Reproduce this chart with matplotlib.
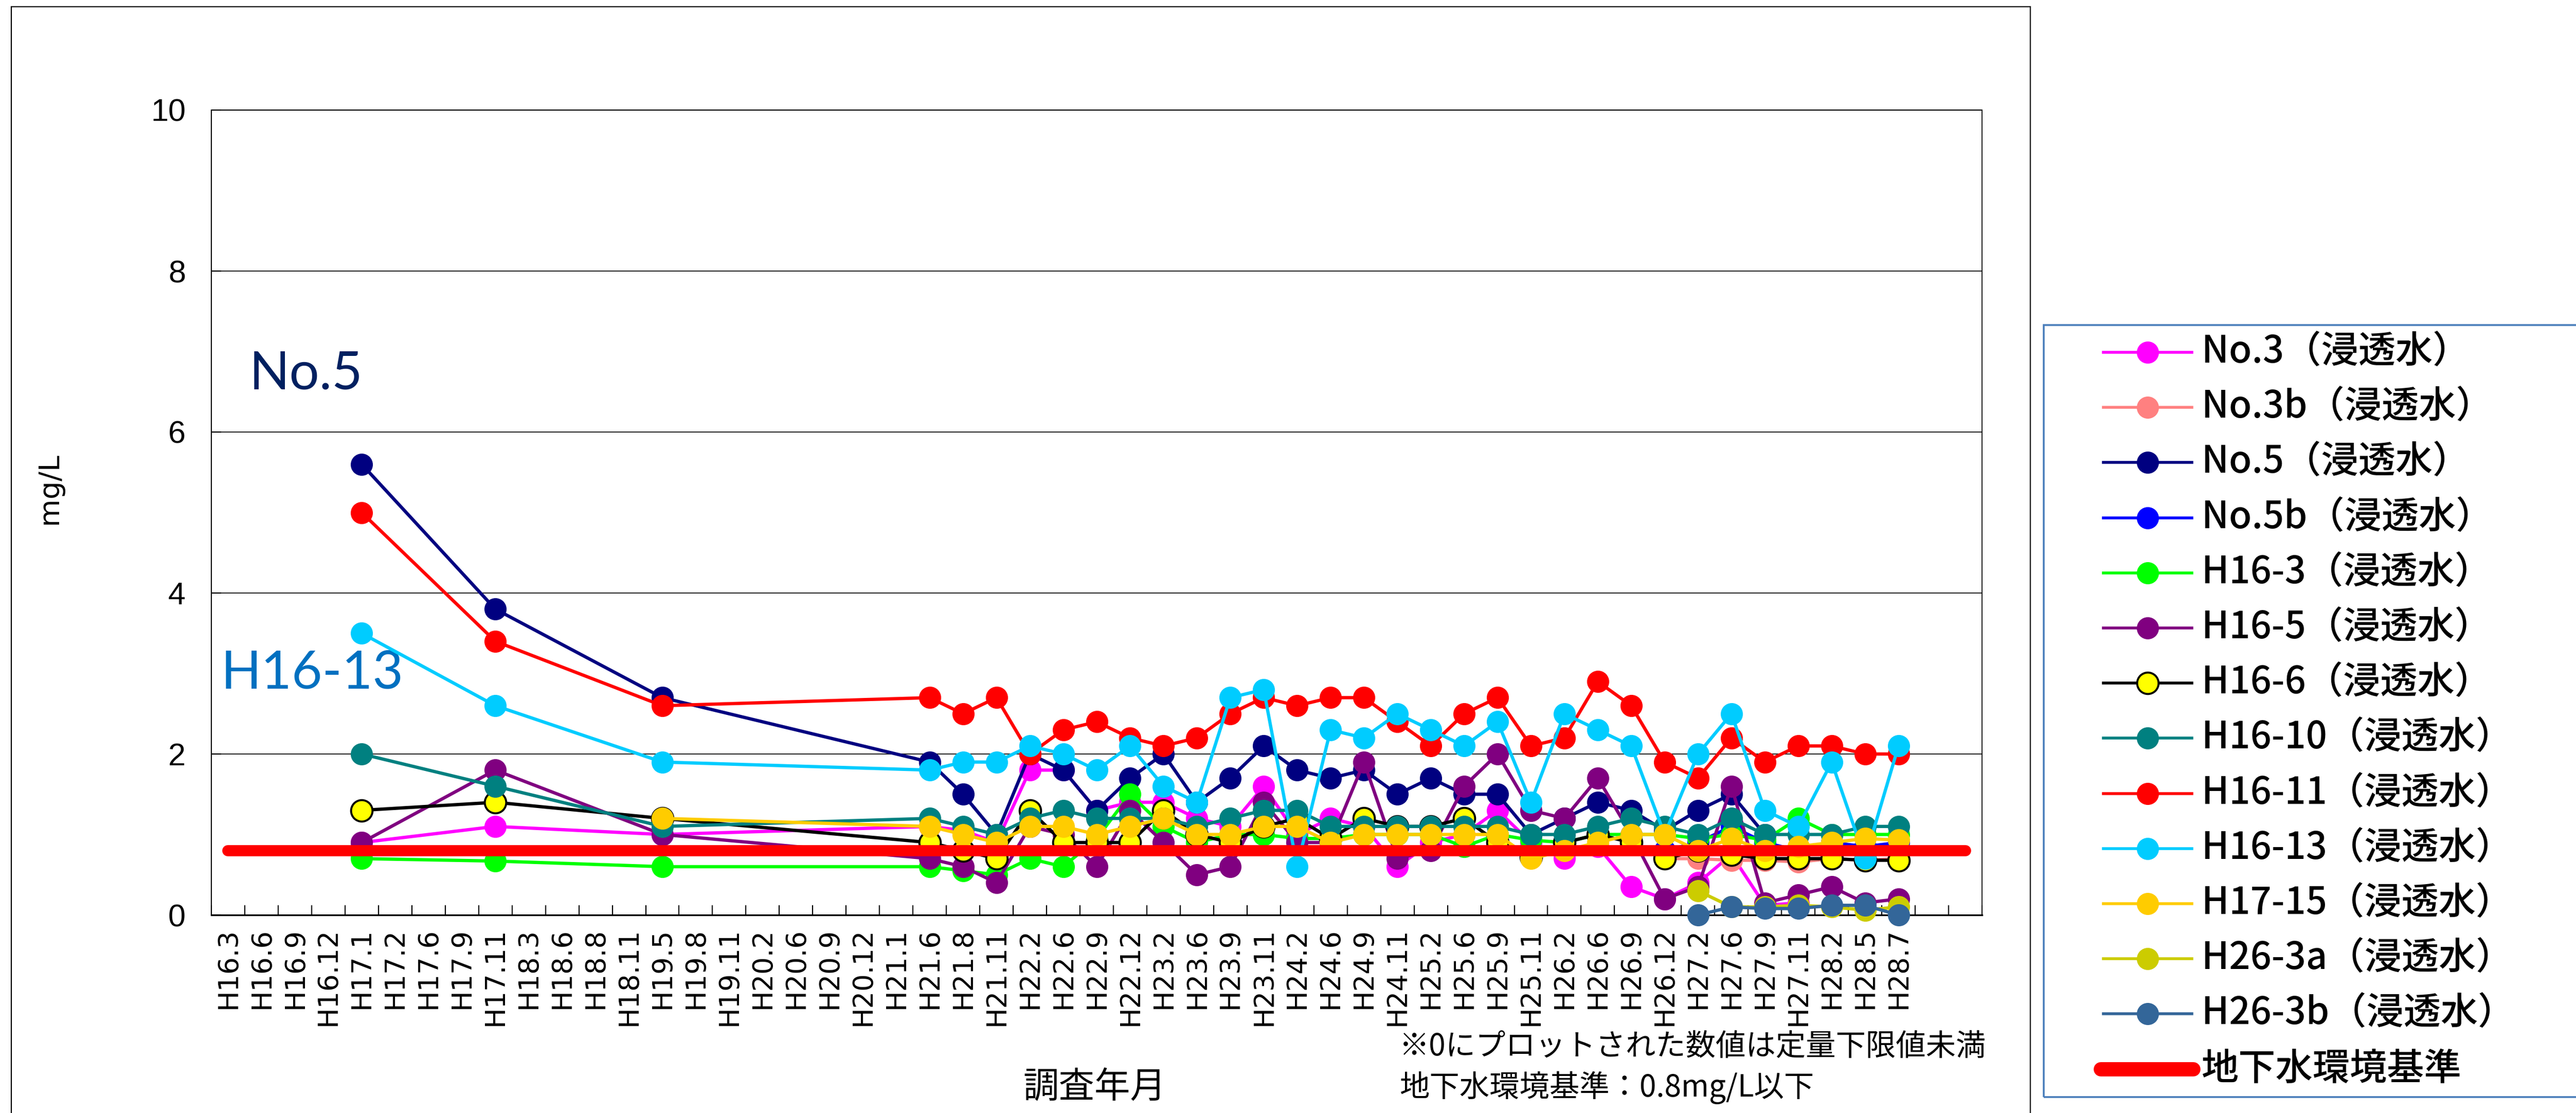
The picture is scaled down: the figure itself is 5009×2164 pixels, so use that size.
import matplotlib
matplotlib.use('Agg')
import matplotlib.pyplot as plt
from matplotlib.lines import Line2D
from matplotlib.patches import Rectangle

N = None

categories = ['H16.3', 'H16.6', 'H16.9', 'H16.12', 'H17.1', 'H17.2', 'H17.6', 'H17.9', 'H17.11',
              'H18.3', 'H18.6', 'H18.8', 'H18.11', 'H19.5', 'H19.8', 'H19.11', 'H20.2', 'H20.6',
              'H20.9', 'H20.12', 'H21.1', 'H21.6', 'H21.8', 'H21.11', 'H22.2', 'H22.6', 'H22.9',
              'H22.12', 'H23.2', 'H23.6', 'H23.9', 'H23.11', 'H24.2', 'H24.6', 'H24.9', 'H24.11',
              'H25.2', 'H25.6', 'H25.9', 'H25.11', 'H26.2', 'H26.6', 'H26.9', 'H26.12', 'H27.2',
              'H27.6', 'H27.9', 'H27.11', 'H28.2', 'H28.5', 'H28.7', '', '']

# values per category (None = not measured)
no3 = [N, N, N, N, 0.9, N, N, N, 1.1, N, N, N, N, 1.0, N, N, N, N, N, N, N,
       1.1, 1.05, 0.9, 1.8, 1.8, 1.3, 1.4, 1.4, 1.2, 1.1, 1.6, 1.0, 1.2, 1.1, 0.6,
       0.9, 1.0, 1.3, 0.9, 0.7, 0.85, 0.35, 0.2, 0.4, 0.75, 0.12, 0.15, N, N, N, N, N]
no3b = [N] * 43 + [0.7, 0.7, 0.68, 0.68, 0.66, 0.7, 0.68, 0.7, N, N]
no5 = [N, N, N, N, 5.6, N, N, N, 3.8, N, N, N, N, 2.7, N, N, N, N, N, N, N,
       1.9, 1.5, 1.0, 2.0, 1.8, 1.3, 1.7, 2.0, 1.4, 1.7, 2.1, 1.8, 1.7, 1.8, 1.5,
       1.7, 1.5, 1.5, 1.0, 1.2, 1.4, 1.3, 1.05, 1.3, 1.5, 1.0, N, N, N, N, N, N]
no5b = [N] * 43 + [0.8, 0.9, 1.1, 0.9, 0.8, 0.9, 0.85, 0.9, N, N]
h16_3 = [N, N, N, N, 0.7, N, N, N, 0.67, N, N, N, N, 0.6, N, N, N, N, N, N, N,
         0.6, 0.55, 0.5, 0.7, 0.6, 0.95, 1.5, 1.1, 0.9, 1.0, 1.0, 0.95, 0.95, 1.0, 1.0,
         1.0, 0.85, 1.0, 0.93, 0.9, 1.0, 1.0, 1.0, 0.95, 1.0, 0.93, 1.2, 1.0, 1.0, 1.0, N, N]
h16_5 = [N, N, N, N, 0.9, N, N, N, 1.8, N, N, N, N, 1.0, N, N, N, N, N, N, N,
         0.7, 0.6, 0.4, 1.1, 1.0, 0.6, 1.3, 0.9, 0.5, 0.6, 1.4, 0.9, 0.9, 1.9, 0.7,
         0.8, 1.6, 2.0, 1.3, 1.2, 1.7, 1.0, 0.2, 0.35, 1.6, 0.15, 0.25, 0.35, 0.15, 0.2, N, N]
h16_6 = [N, N, N, N, 1.3, N, N, N, 1.4, N, N, N, N, 1.2, N, N, N, N, N, N, N,
         0.9, 0.8, 0.7, 1.3, 0.9, 0.9, 0.9, 1.3, 1.0, 0.9, 1.1, 1.2, 0.95, 1.2, 1.1,
         1.1, 1.2, 0.9, 0.72, 0.9, 1.0, 0.9, 0.7, 0.8, 0.75, 0.7, 0.7, 0.7, 0.68, 0.68, N, N]
h16_10 = [N, N, N, N, 2.0, N, N, N, 1.6, N, N, N, N, 1.1, N, N, N, N, N, N, N,
          1.2, 1.1, 1.0, 1.2, 1.3, 1.2, 1.2, 1.2, 1.1, 1.2, 1.3, 1.3, 1.1, 1.1, 1.1,
          1.1, 1.1, 1.1, 1.0, 1.0, 1.1, 1.2, 1.1, 1.0, 1.2, 1.0, 1.0, 1.0, 1.1, 1.1, N, N]
h16_11 = [N, N, N, N, 5.0, N, N, N, 3.4, N, N, N, N, 2.6, N, N, N, N, N, N, N,
          2.7, 2.5, 2.7, 2.0, 2.3, 2.4, 2.2, 2.1, 2.2, 2.5, 2.7, 2.6, 2.7, 2.7, 2.4,
          2.1, 2.5, 2.7, 2.1, 2.2, 2.9, 2.6, 1.9, 1.7, 2.2, 1.9, 2.1, 2.1, 2.0, 2.0, N, N]
h16_13 = [N, N, N, N, 3.5, N, N, N, 2.6, N, N, N, N, 1.9, N, N, N, N, N, N, N,
          1.8, 1.9, 1.9, 2.1, 2.0, 1.8, 2.1, 1.6, 1.4, 2.7, 2.8, 0.6, 2.3, 2.2, 2.5,
          2.3, 2.1, 2.4, 1.4, 2.5, 2.3, 2.1, 1.0, 2.0, 2.5, 1.3, 1.1, 1.9, 0.7, 2.1, N, N]
h17_15 = [N, N, N, N, N, N, N, N, N, N, N, N, N, 1.2, N, N, N, N, N, N, N,
          1.1, 1.0, 0.9, 1.1, 1.1, 1.0, 1.1, 1.2, 1.0, 1.0, 1.1, 1.1, 0.9, 1.0, 1.0,
          1.0, 1.0, 1.0, 0.7, 0.8, 0.9, 1.0, 1.0, 0.8, 0.95, 0.8, 0.85, 0.9, 0.95, 0.93, N, N]
h26_3a = [N] * 44 + [0.3, 0.1, 0.1, 0.12, 0.1, 0.06, 0.1, N, N]
h26_3b = [N] * 44 + [0.0, 0.1, 0.08, 0.08, 0.12, 0.12, 0.0, N, N]
standard = [0.8] * 53

series_labels = ['No.3（浸透水）', 'No.3b（浸透水）', 'No.5（浸透水）', 'No.5b（浸透水）',
                 'H16-3（浸透水）', 'H16-5（浸透水）', 'H16-6（浸透水）', 'H16-10（浸透水）',
                 'H16-11（浸透水）', 'H16-13（浸透水）', 'H17-15（浸透水）', 'H26-3a（浸透水）',
                 'H26-3b（浸透水）']
series_values = [no3, no3b, no5, no5b, h16_3, h16_5, h16_6, h16_10, h16_11, h16_13,
                 h17_15, h26_3a, h26_3b]
line_colors = ['#FF00FF', '#FF8080', '#000080', '#0000FF', '#00FF00', '#800080', '#000000',
               '#008080', '#FF0000', '#00CCFF', '#FFCC00', '#CCCC00', '#336699']
face_colors = ['#FF00FF', '#FF8080', '#000080', '#0000FF', '#00FF00', '#800080', '#FFFF00',
               '#008080', '#FF0000', '#00CCFF', '#FFCC00', '#CCCC00', '#336699']
standard_label = '地下水環境基準'

JP = ['Noto Sans CJK JP', 'DejaVu Sans']

W, H = 5009, 2164
DPI = 200
fig = plt.figure(figsize=(W / DPI, H / DPI), dpi=DPI)


def fx(px):
    return px / W


def fy(py):
    return 1 - py / H


L, R, T, B = 411, 3854, 214, 1779
ax = fig.add_axes([fx(L), fy(B), fx(R) - fx(L), fy(T) - fy(B)])

for k, (vals, lc, fc) in enumerate(zip(series_values, line_colors, face_colors)):
    xs = [i for i, v in enumerate(vals) if v is not None]
    ys = [v for v in vals if v is not None]
    edge = '#000000' if lc == '#000000' else fc
    ax.plot(xs, ys, color=lc, lw=2.3, marker='o', ms=15, mfc=fc, mec=edge,
            mew=1.4 if lc == '#000000' else 0.5, zorder=3 + k * 0.1, clip_on=False)

ax.plot(range(len(categories)), standard, color='#FF0000', lw=7.8,
        solid_capstyle='round', zorder=10)

ax.set_xlim(-0.5, len(categories) - 0.5)
ax.set_ylim(0, 10)
ax.set_yticks([0, 2, 4, 6, 8, 10])
ax.set_yticklabels(['0', '2', '4', '6', '8', '10'])
ax.yaxis.grid(True, color='black', lw=0.6)
ax.set_axisbelow(True)

ax.set_xticks(range(len(categories)))
ax.set_xticklabels(categories, rotation=90, fontsize=19, family='DejaVu Sans')
ax.set_xticks([i - 0.5 for i in range(len(categories) + 1)], minor=True)
ax.tick_params(axis='x', which='major', length=0, pad=9)
ax.tick_params(axis='x', which='minor', length=6.8, width=0.8, direction='in')
ax.tick_params(axis='y', which='major', length=6.8, width=0.8, direction='in', pad=18)
for lab in ax.get_yticklabels():
    lab.set_fontsize(22)
    lab.set_family(['Liberation Sans Narrow', 'Liberation Sans', 'DejaVu Sans'])

for s in ['left', 'right', 'top']:
    ax.spines[s].set_linewidth(0.7)
ax.spines['bottom'].set_linewidth(1.2)

ax.text(0.64, 6.72, 'No.5', color='#002060', fontsize=37, family='Lato',
        ha='left', va='center')
ax.text(-0.22, 3.0, 'H16-13', color='#0070C0', fontsize=37, family='Lato',
        ha='left', va='center')

fig.text(fx(96), fy(950), 'mg/L', rotation=90, fontsize=20, family='DejaVu Sans',
         ha='center', va='center')
fig.text(fx(2128), fy(2115), '調査年月', fontsize=25, family=JP, ha='center', va='center')
fig.text(fx(2721), fy(2035), '※0にプロットされた数値は定量下限値未満', fontsize=21,
         family=JP, ha='left', va='center')
fig.text(fx(2721), fy(2115), '地下水環境基準：0.8mg/L以下', fontsize=21,
         family=JP, ha='left', va='center')

# chart-area border
fig.add_artist(Rectangle((fx(22), fy(2300)), fx(3948) - fx(22), fy(13) - fy(2300),
                         transform=fig.transFigure, fill=False, edgecolor='black', lw=0.8))

# legend box
fig.add_artist(Rectangle((fx(3974), fy(2133)), fx(5100) - fx(3974), fy(632) - fy(2133),
                         transform=fig.transFigure, fill=False, edgecolor='#4A7EBB', lw=1.3))

y0, dy = 685, 107.2
for k, (lab, lc, fc) in enumerate(zip(series_labels, line_colors, face_colors)):
    yy = fy(y0 + dy * k)
    edge = '#000000' if lc == '#000000' else fc
    fig.add_artist(Line2D([fx(4090), fx(4176), fx(4262)], [yy, yy, yy],
                          transform=fig.transFigure, color=lc, lw=2.0, marker='o',
                          markevery=[1], ms=15, mfc=fc, mec=edge,
                          mew=1.4 if lc == '#000000' else 0.5))
    fig.text(fx(4281), yy, lab, fontsize=26, family=JP, fontweight='medium',
             ha='left', va='center')

yy = fy(y0 + dy * len(series_labels))
fig.add_artist(Line2D([fx(4085), fx(4265)], [yy, yy], transform=fig.transFigure,
                      color='#FF0000', lw=10, solid_capstyle='round'))
fig.text(fx(4281), yy, standard_label, fontsize=26, family=JP, fontweight='medium',
         ha='left', va='center')

fig.savefig('out.png', dpi=DPI)
